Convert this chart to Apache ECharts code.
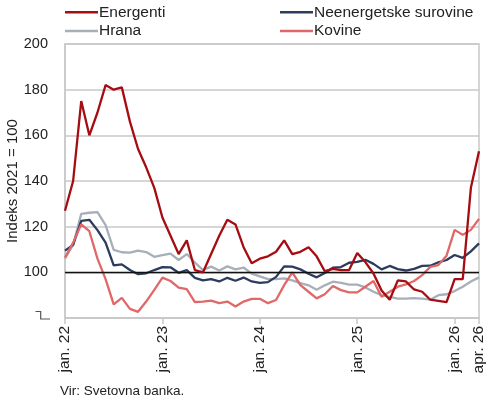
<!DOCTYPE html>
<html>
<head>
<meta charset="utf-8">
<script src="https://cdn.jsdelivr.net/npm/echarts@6/dist/echarts.min.js"></script>
<style>html,body{margin:0;padding:0;background:#fff}#c{width:490px;height:400px}</style>
</head>
<body>
<div id="c"></div>
<script>
var monthNames = ['jan.','feb.','mar.','apr.','maj.','jun.','jul.','avg.','sep.','okt.','nov.','dec.'];
var years = ['22','23','24','25','26'];
var categories = [];
years.forEach(function(y){ monthNames.forEach(function(m){ categories.push(m + ' ' + y); }); });
categories = categories.slice(0, 52); // jan. 22 .. apr. 26

var energenti = [127,140,175,160,170,182,180,181,166,154,146,137,124,116,108,114,101,100,108,116,123,121,111,104,106,107,109,114,108,109,111,107,100.5,101.5,101,101,108.5,104.5,99.5,92,88,96.5,96,92.5,91.5,88,87.5,87,97,97,137,153];
var neenergetske = [109.5,112,122.5,123,118.5,113,103,103.5,101,99.2,99.6,101,102.3,102.2,99.8,101,97.6,96.5,97,96,97.6,96.3,97.7,96,95.4,95.7,98,102.6,102.5,101.3,99.4,97.8,99.7,102,102.3,104.2,104.6,105.5,103.7,101.3,102.8,101.4,100.8,101.5,102.8,102.9,104.4,105.4,107.6,106.3,109.2,112.7];
var hrana = [106,112,125.6,126.1,126.4,120.7,109.8,108.8,108.6,109.5,108.9,106.8,107.5,108.2,105.4,108,104.3,101,102.5,100.8,102.6,101.3,102.1,99.4,98.2,97,97,97.4,96.5,95.3,94.3,92.4,94.3,95.9,95.4,94.6,94.6,93.4,91.5,90,89.2,88.5,88.5,88.7,88.5,88,90,90.4,91.8,93.7,96,97.8];
var kovine = [106.5,113,121,118,106,97,86,88.8,84,82.7,87.2,92.3,97.7,96.2,93.3,92.6,87,87.2,87.6,86.5,87.2,85,87.2,88.4,88.4,86.5,87.9,94.4,100,94.4,91.5,88.6,90.4,94,92.2,91.2,91.2,93.7,96.2,89.3,91.5,93.7,94.7,96.2,98.8,102.4,103.2,107.3,118.6,116.4,118.6,123.4];

var yTicks = {min: 80, max: 200, step: 20};
var refLevel = 100;

var FONT = 'Liberation Sans, Arial, sans-serif';
var col = {e:'#a50d12', n:'#2c3b5e', h:'#a7afb9', k:'#e06868'};

function isShown(i){ return i % 12 === 0 || i === categories.length - 1; }

var legendText = {fontSize:15.5,color:'#222',lineHeight:18.6,padding:[0,0,0,-4],fontFamily:FONT};

var chart = echarts.init(document.getElementById('c'), null, {renderer:'canvas'});
chart.setOption({
  animation:false,
  textStyle:{fontFamily:FONT},
  grid:{left:65,right:11,top:44,bottom:82,show:true,borderColor:'#c8c8c8',borderWidth:1.5,containLabel:false,outerBoundsMode:'none'},
  title:{text:'Vir: Svetovna banka.',left:55,top:379,textStyle:{fontSize:13.5,fontWeight:'normal',color:'#222',fontFamily:FONT}},
  legend:[
    {data:['Energenti','Hrana'],orient:'vertical',left:60,top:-2,itemWidth:33,itemHeight:2.5,itemGap:0,icon:'rect',textStyle:legendText},
    {data:['Neenergetske surovine','Kovine'],orient:'vertical',left:275,top:-2,itemWidth:33,itemHeight:2.5,itemGap:0,icon:'rect',textStyle:legendText}
  ],
  xAxis:{type:'category',data:categories,boundaryGap:false,
    axisLine:{lineStyle:{color:'#c8c8c8',width:1.5}},
    axisTick:{show:true,interval:function(i){return isShown(i);},length:6,lineStyle:{color:'#c8c8c8',width:1.5}},
    axisLabel:{interval:function(i){return isShown(i);},rotate:90,fontSize:15.5,color:'#222',margin:8,fontFamily:FONT},
    splitLine:{show:false}},
  yAxis:{type:'value',min:yTicks.min,max:yTicks.max,interval:yTicks.step,
    name:'Indeks 2021 = 100',nameLocation:'middle',nameGap:52,nameRotate:90,nameMoveOverlap:false,
    nameTextStyle:{fontSize:15,color:'#222',fontFamily:FONT,verticalAlign:'middle'},
    axisLine:{show:true,lineStyle:{color:'#c8c8c8',width:1.5}},
    axisTick:{show:false},
    axisLabel:{fontSize:14.5,color:'#222',margin:17,fontFamily:FONT,formatter:function(v){return v===yTicks.min?'':String(v);}},
    splitLine:{show:true,lineStyle:{color:'#c8c8c8',width:1.5}}},
  graphic:[{type:'polyline',silent:true,shape:{points:[[35.5,311.5],[40.7,311.5],[40.7,319],[50,319]]},style:{stroke:'#555',lineWidth:1.2,fill:null}}],
  series:[
    {name:'Hrana',type:'line',data:hrana,symbol:'none',lineStyle:{color:col.h,width:2.3},itemStyle:{color:col.h},z:2,
     markLine:{silent:true,symbol:'none',label:{show:false},lineStyle:{color:'#111',width:1.3,type:'solid'},data:[{yAxis:refLevel}]}},
    {name:'Neenergetske surovine',type:'line',data:neenergetske,symbol:'none',lineStyle:{color:col.n,width:2.3},itemStyle:{color:col.n},z:3},
    {name:'Kovine',type:'line',data:kovine,symbol:'none',lineStyle:{color:col.k,width:2.3},itemStyle:{color:col.k},z:4},
    {name:'Energenti',type:'line',data:energenti,symbol:'none',lineStyle:{color:col.e,width:2.3},itemStyle:{color:col.e},z:5}
  ]
});
</script>
</body>
</html>
